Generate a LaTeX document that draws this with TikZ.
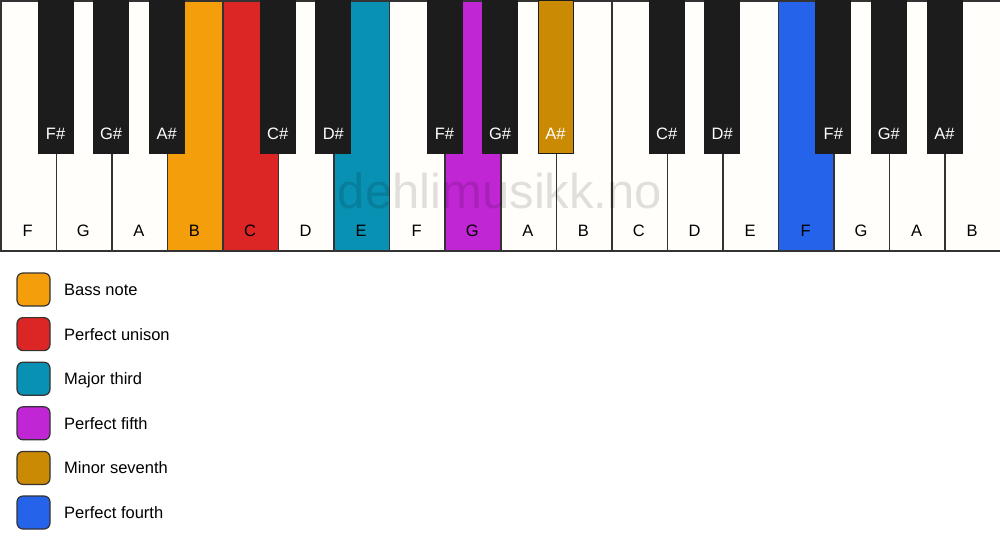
\documentclass[tikz,border=0pt]{standalone}
\usepackage{fontspec}
\setmainfont{Liberation Sans}
\definecolor{bass}{HTML}{F59E0B}
\definecolor{unison}{HTML}{DC2626}
\definecolor{third}{HTML}{0891B2}
\definecolor{fifth}{HTML}{C026D3}
\definecolor{seventh}{HTML}{CA8A04}
\definecolor{fourth}{HTML}{2563EB}
\definecolor{ivory}{HTML}{FFFEFA}
\definecolor{ebony}{HTML}{1C1C1C}
\definecolor{edge}{HTML}{333333}
\tikzset{
  whitekey/.style={draw=edge, line width=1.5pt, fill=ivory, minimum width=55.556pt, minimum height=250pt, inner sep=0pt, anchor=north west},
  blackkey/.style={draw=ebony, line width=0.8pt, fill=ebony, minimum width=35pt, minimum height=153pt, inner sep=0pt, anchor=north},
  wlabel/.style={font=\fontsize{16.5}{18}\selectfont, text=black, anchor=base, inner sep=0pt},
  blabel/.style={font=\fontsize{16.5}{18}\selectfont, text=white, anchor=base, inner sep=0pt},
  legbox/.style={draw=edge, line width=1.2pt, rounded corners=6pt, minimum width=33pt, minimum height=33pt, inner sep=0pt},
  legtext/.style={font=\fontsize{16.5}{18}\selectfont, anchor=base west, inner sep=0pt}
}
\begin{document}
\begin{tikzpicture}[x=1pt,y=-1pt]
\useasboundingbox (0,0) rectangle (1000,550);
\fill[white] (0,0) rectangle (1000,550);
% white keys
\foreach \i/\n/\c in {0/F/ivory,1/G/ivory,2/A/ivory,3/B/bass,4/C/unison,5/D/ivory,6/E/third,7/F/ivory,8/G/fifth,9/A/ivory,10/B/ivory,11/C/ivory,12/D/ivory,13/E/ivory,14/F/fourth,15/G/ivory,16/A/ivory,17/B/ivory}{
  \node[whitekey, fill=\c] (w\i) at ({\i*55.556},0) {};
  \node[wlabel] (wl\i) at ({\i*55.556+27.778},236) {\n};
}
% watermark
\node[font=\fontsize{49}{52}\selectfont, text=black, opacity=0.12] (wm) at (500,191) {dehlimusikk.no};
% black keys
\foreach \i/\n/\c in {1/F\#/ebony,2/G\#/ebony,3/A\#/ebony,5/C\#/ebony,6/D\#/ebony,8/F\#/ebony,9/G\#/ebony,10/A\#/seventh,12/C\#/ebony,13/D\#/ebony,15/F\#/ebony,16/G\#/ebony,17/A\#/ebony}{
  \node[blackkey, fill=\c] (b\i) at ({\i*55.556},0) {};
  \node[blabel] (bl\i) at ({\i*55.556},139) {\n};
}
% legend
\foreach \k/\c/\t in {0/bass/Bass note,1/unison/Perfect unison,2/third/Major third,3/fifth/Perfect fifth,4/seventh/Minor seventh,5/fourth/Perfect fourth}{
  \node[legbox, fill=\c] (lb\k) at (33.5,{289.5+\k*44.6}) {};
  \node[legtext] (lt\k) at (64,{295.5+\k*44.6}) {\t};
}
\end{tikzpicture}
\end{document}
